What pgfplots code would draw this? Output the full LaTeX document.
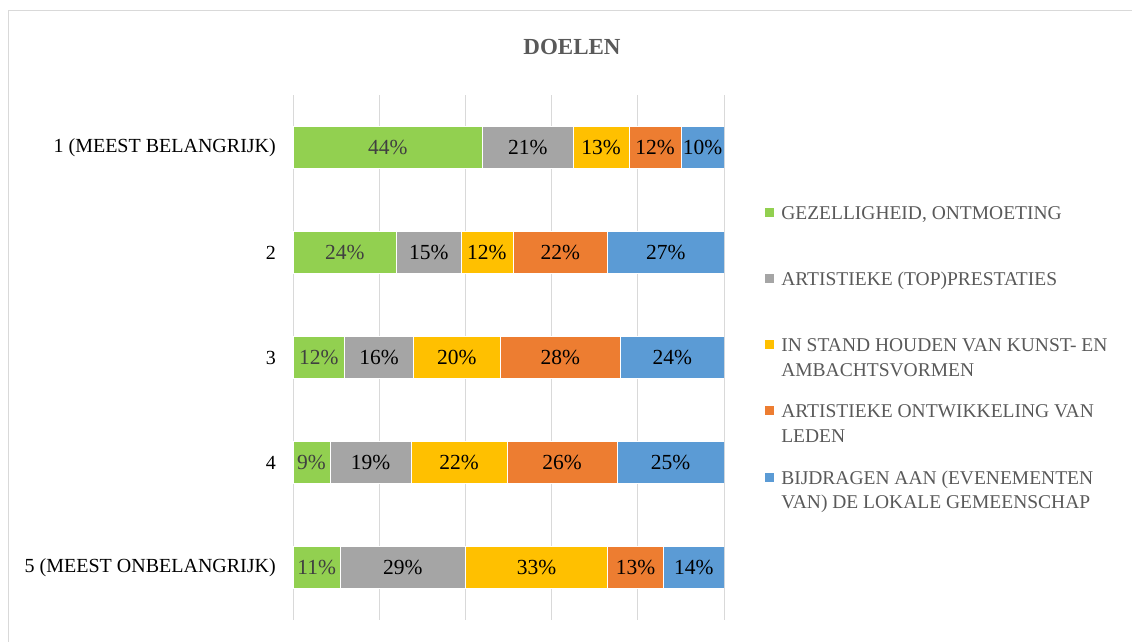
\documentclass[border=0pt]{standalone}
\usepackage{pgfplots}
\pgfplotsset{compat=1.18}
\usepackage{fontspec}
\setmainfont{Liberation Serif}

\definecolor{cgreen}{HTML}{92D050}
\definecolor{cgray}{HTML}{A5A5A5}
\definecolor{cyellow}{HTML}{FFC000}
\definecolor{corange}{HTML}{ED7D31}
\definecolor{cblue}{HTML}{5B9BD5}
\definecolor{cgrid}{HTML}{D9D9D9}
\definecolor{ctext}{HTML}{595959}
\definecolor{cdark}{HTML}{404040}

\newcommand{\lent}[1]{\parbox[t]{340bp}{\raggedright #1}}

\begin{document}
\begin{tikzpicture}
\useasboundingbox (0,0) rectangle (1132bp,-642bp);
\draw[cgrid, line width=1bp] (8bp,-642bp) -- (8bp,-10bp) -- (1132bp,-10bp);
\node[text=ctext, font=\fontsize{23bp}{27bp}\selectfont\bfseries] at (572bp,-47bp) {DOELEN};
\begin{axis}[
  at={(293bp,-620bp)}, anchor=south west,
  scale only axis, width=431bp, height=525bp,
  xbar stacked, bar width=42bp,
  xmin=0, xmax=100, ymin=0.5, ymax=5.5, y dir=reverse,
  ytick={1,2,3,4,5},
  yticklabels={1 (MEEST BELANGRIJK),2,3,4,5 (MEEST ONBELANGRIJK)},
  xtick={0,20,40,60,80,100}, xticklabels={},
  xmajorgrids, major grid style={cgrid, line width=1bp},
  axis line style={draw=none}, major tick length=0pt,
  yticklabel style={font=\fontsize{20bp}{24bp}\selectfont, anchor=east, inner sep=0pt, xshift=-17bp},
  point meta=explicit symbolic,
  nodes near coords,
  every node near coord/.append style={font=\fontsize{21.5bp}{25bp}\selectfont, text=black},
  legend style={draw=none, fill=none, inner sep=0pt,
    at={(1.093,0.7924)}, anchor=north west,
    font=\fontsize{19.5bp}{24.5bp}\selectfont,
    cells={anchor=base west, inner sep=0pt, text=ctext},
    row sep=47.6bp,
    /tikz/every odd column/.append style={column sep=4.5bp}},
  legend image code/.code={\fill[#1] (0bp,2bp) rectangle (10bp,12bp);},
]
\addplot[fill=cgreen, draw=white, line width=0.5bp, every node near coord/.append style={text=cdark}]
  coordinates {(44,1) [44\%] (24,2) [24\%] (12,3) [12\%] (8.6,4) [9\%] (11,5) [11\%]};
\addplot[fill=cgray, draw=white, line width=0.5bp]
  coordinates {(21,1) [21\%] (15,2) [15\%] (16,3) [16\%] (18.8,4) [19\%] (29,5) [29\%]};
\addplot[fill=cyellow, draw=white, line width=0.5bp]
  coordinates {(13,1) [13\%] (12,2) [12\%] (20,3) [20\%] (22.3,4) [22\%] (33,5) [33\%]};
\addplot[fill=corange, draw=white, line width=0.5bp]
  coordinates {(12,1) [12\%] (22,2) [22\%] (28,3) [28\%] (25.5,4) [26\%] (13,5) [13\%]};
\addplot[fill=cblue, draw=white, line width=0.5bp]
  coordinates {(10,1) [10\%] (27,2) [27\%] (24,3) [24\%] (24.8,4) [25\%] (14,5) [14\%]};
\addlegendentry{\lent{GEZELLIGHEID, ONTMOETING}}
\addlegendentry{\lent{ARTISTIEKE (TOP)PRESTATIES}}
\addlegendentry{\lent{IN STAND HOUDEN VAN KUNST- EN\\AMBACHTSVORMEN}}
\addlegendentry{\lent{ARTISTIEKE ONTWIKKELING VAN\\LEDEN}}
\addlegendentry{\lent{BIJDRAGEN AAN (EVENEMENTEN\\VAN) DE LOKALE GEMEENSCHAP}}
\end{axis}
\end{tikzpicture}
\end{document}
